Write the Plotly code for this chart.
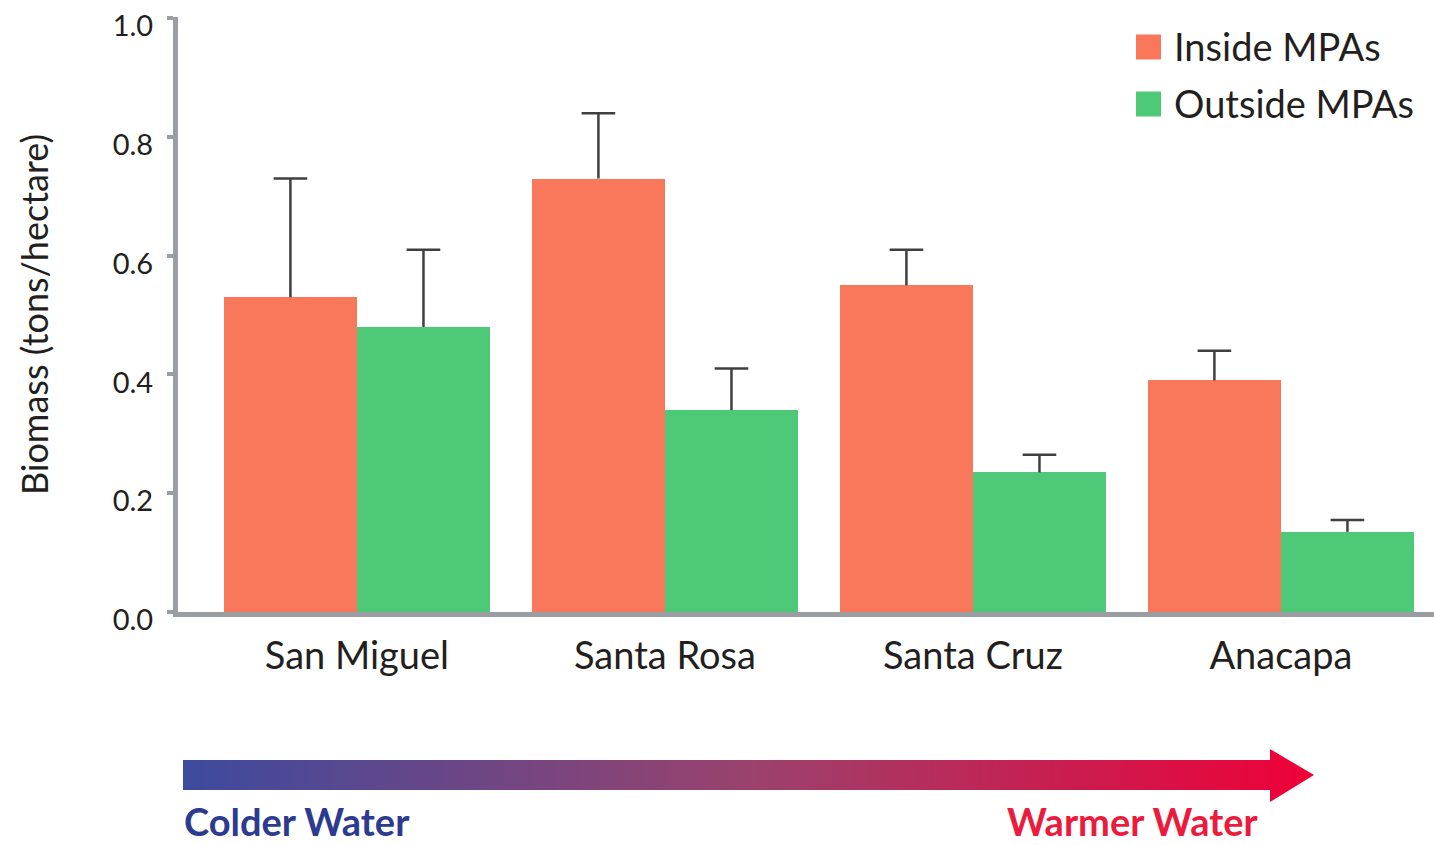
import plotly.graph_objects as go

# Fish biomass by island, inside vs outside marine protected areas
islands = ["San Miguel", "Santa Rosa", "Santa Cruz", "Anacapa"]
series_names = ["Inside MPAs", "Outside MPAs"]
inside_biomass = [0.53, 0.73, 0.55, 0.39]
inside_se = [0.20, 0.11, 0.06, 0.05]
outside_biomass = [0.48, 0.34, 0.235, 0.135]
outside_se = [0.13, 0.07, 0.03, 0.02]
y_ticks = [0.0, 0.2, 0.4, 0.6, 0.8, 1.0]

W, H = 1434, 845
INSIDE_COLOR = "#f9785c"
OUTSIDE_COLOR = "#4ec977"
AXIS_COLOR = "#9a9ea2"
WHISKER_COLOR = "#3f3f3f"
TEXT_COLOR = "#231f20"
FONT = "Lato"

BAR_W = 0.432  # width of a single bar in category units
pos = list(range(len(islands)))

fig = go.Figure()

fig.add_trace(go.Bar(
    x=pos, y=inside_biomass, width=BAR_W, offset=-BAR_W,
    marker=dict(color=INSIDE_COLOR, line=dict(width=0)),
    name=series_names[0], showlegend=False,
))
fig.add_trace(go.Bar(
    x=pos, y=outside_biomass, width=BAR_W, offset=0,
    marker=dict(color=OUTSIDE_COLOR, line=dict(width=0)),
    name=series_names[1], showlegend=False,
))


def whiskers(values, errs, shift):
    xs, ys = [], []
    for p, v, e in zip(pos, values, errs):
        xs += [p + shift, p + shift, None]
        ys += [v, v + e, None]
    return xs, ys


for vals, errs, shift in [(inside_biomass, inside_se, -BAR_W / 2),
                          (outside_biomass, outside_se, BAR_W / 2)]:
    xs, ys = whiskers(vals, errs, shift)
    fig.add_trace(go.Scatter(
        x=xs, y=ys, mode="lines",
        line=dict(color=WHISKER_COLOR, width=2.5),
        showlegend=False, hoverinfo="skip",
    ))
    fig.add_trace(go.Scatter(
        x=[p + shift for p in pos], y=[v + e for v, e in zip(vals, errs)],
        mode="markers",
        marker=dict(symbol="line-ew", size=24,
                    line=dict(color=WHISKER_COLOR, width=2.5)),
        showlegend=False, hoverinfo="skip",
    ))

# Temperature gradient arrow (pixel-space helper axes)
arrow_x = [183, 1270, 1270, 1314, 1270, 1270, 183, 183]
arrow_y = [760, 760, 749, 775, 802, 790, 790, 760]
fig.add_trace(go.Scatter(
    x=arrow_x, y=arrow_y, xaxis="x2", yaxis="y2",
    mode="lines", line=dict(width=0), fill="toself",
    fillgradient=dict(type="horizontal",
                      colorscale=[[0, "#3d4a9e"], [0.5, "#9a426d"], [1, "#ef0038"]]),
    showlegend=False, hoverinfo="skip",
))

y_bottom, y_top = 612, 17
fig.update_layout(
    width=W, height=H,
    margin=dict(l=0, r=0, t=0, b=0, pad=0, autoexpand=False),
    paper_bgcolor="white", plot_bgcolor="white",
    font=dict(family=FONT, color=TEXT_COLOR),
    bargap=0, barmode="overlay",
    xaxis=dict(
        domain=[178 / W, 1],
        range=[-0.581, 3.497],
        tickmode="array", tickvals=pos, ticktext=islands,
        tickfont=dict(size=38, color=TEXT_COLOR, family=FONT),
        ticks="", ticklabelstandoff=6,
        showline=True, linecolor=AXIS_COLOR, linewidth=5,
        showgrid=False, zeroline=False, automargin=False,
    ),
    yaxis=dict(
        domain=[(H - y_bottom) / H, (H - y_top) / H],
        range=[0, 1.002],
        tickmode="array", tickvals=y_ticks,
        ticktext=[f"{v:.1f}" for v in y_ticks],
        tickfont=dict(size=29, color=TEXT_COLOR, family=FONT),
        ticks="outside", ticklen=6, tickwidth=4, tickcolor=AXIS_COLOR,
        ticklabelstandoff=8, ticklabelshift=8,
        showline=True, linecolor=AXIS_COLOR, linewidth=5,
        showgrid=False, zeroline=False, automargin=False,
        title=dict(text="Biomass (tons/hectare)",
                   font=dict(size=36, color=TEXT_COLOR, family=FONT),
                   standoff=55),
    ),
    xaxis2=dict(domain=[0, 1], range=[0, W], visible=False, fixedrange=True,
                automargin=False),
    yaxis2=dict(domain=[0, (H - 700) / H], range=[H, 700], visible=False,
                fixedrange=True, anchor="x2", automargin=False),
)

# Legend keys
legend_rows = [(series_names[0], INSIDE_COLOR, 47), (series_names[1], OUTSIDE_COLOR, 104)]
for name, color, yc in legend_rows:
    fig.add_shape(type="rect", xref="paper", yref="paper",
                  x0=1136 / W, x1=1161 / W,
                  y0=(H - yc - 12.5) / H, y1=(H - yc + 12.5) / H,
                  fillcolor=color, line=dict(width=0))
    fig.add_annotation(text=name, xref="paper", yref="paper",
                       x=1172 / W, y=(H - yc + 1) / H,
                       xanchor="left", yanchor="middle", showarrow=False,
                       font=dict(size=38, color=TEXT_COLOR, family=FONT))

fig.add_annotation(text="<b>Colder Water</b>", xref="paper", yref="paper",
                   x=183 / W, y=(H - 821) / H, xanchor="left", yanchor="middle",
                   showarrow=False, borderpad=0,
                   font=dict(size=38, color="#2c3a8f", family=FONT))
fig.add_annotation(text="<b>Warmer Water</b>", xref="paper", yref="paper",
                   x=1259 / W, y=(H - 821) / H, xanchor="right", yanchor="middle",
                   showarrow=False, borderpad=0,
                   font=dict(size=38, color="#ec1b3d", family=FONT))

fig.write_html("out.html")
